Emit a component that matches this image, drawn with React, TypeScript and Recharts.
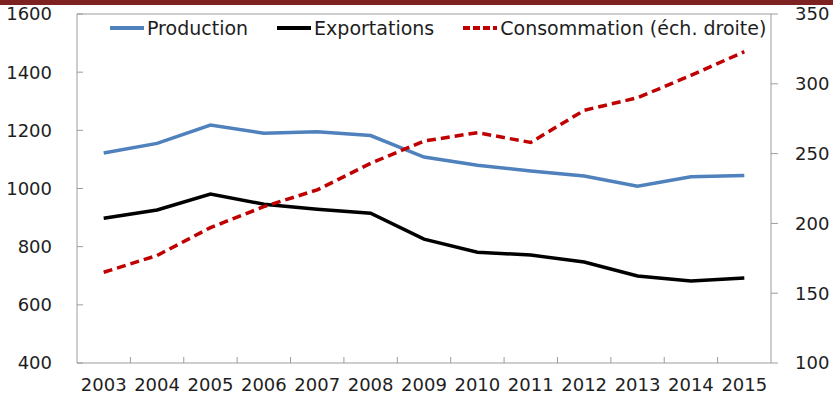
import {
  LineChart,
  Line,
  XAxis,
  YAxis,
  Legend,
  ReferenceLine,
} from "recharts";

const C_TEXT = "#1e1e1e";
const C_AXIS = "#9c9c9c";
const C_PROD = "#4f81bd";
const C_EXPO = "#000000";
const C_CONSO = "#c00000";
const C_BAND = "#7d2220";
const FONT = "'DejaVu Sans', sans-serif";

const W = 833;
const H = 406;
const LEFT_W = 77;
const RIGHT_W = 62;
const PLOT_W = W - LEFT_W - RIGHT_W;

const years = [
  "2003", "2004", "2005", "2006", "2007", "2008", "2009",
  "2010", "2011", "2012", "2013", "2014", "2015",
];
const production = [1122, 1155, 1218, 1190, 1195, 1182, 1108, 1080, 1060, 1043, 1008, 1040, 1045];
const exportations = [898, 926, 981, 946, 929, 915, 826, 781, 771, 747, 699, 682, 692];
const consommation = [165, 177, 197, 212, 224, 243, 259, 265, 258, 281, 290, 306, 323];

const leftTicks = [400, 600, 800, 1000, 1200, 1400, 1600];
const rightTicks = [100, 150, 200, 250, 300, 350];

const data = years.map((year, i) => ({
  year,
  Production: production[i],
  Exportations: exportations[i],
  Consommation: consommation[i],
}));

const legendItems = [
  { label: "Production", color: C_PROD, dash: undefined },
  { label: "Exportations", color: C_EXPO, dash: undefined },
  { label: "Consommation (éch. droite)", color: C_CONSO, dash: "7 3" },
];

const X_MARGIN = 15;
const Y_MARGIN = 25;
const STEP = PLOT_W / years.length;

function YearTick(props: any) {
  const { x, y, payload, index } = props;
  const axisY = y - X_MARGIN;
  return (
    <g>
      {index > 0 && (
        <line
          x1={x - STEP / 2}
          x2={x - STEP / 2}
          y1={axisY}
          y2={axisY - 6}
          stroke={C_AXIS}
        />
      )}
      <text
        x={x}
        y={y}
        dy="0.71em"
        textAnchor="middle"
        fontSize={18}
        fill={C_TEXT}
        fontFamily={FONT}
      >
        {payload.value}
      </text>
    </g>
  );
}

function LeftTick(props: any) {
  const { x, y, payload } = props;
  const axisX = x + Y_MARGIN;
  return (
    <g>
      <line x1={axisX} x2={axisX + 6} y1={y} y2={y} stroke={C_AXIS} />
      <text
        x={x}
        y={y}
        dy="0.36em"
        textAnchor="end"
        fontSize={18}
        fill={C_TEXT}
        fontFamily={FONT}
      >
        {payload.value}
      </text>
    </g>
  );
}

function LegendContent() {
  return (
    <div
      style={{
        display: "flex",
        alignItems: "center",
        fontFamily: FONT,
        fontSize: 19,
        color: C_TEXT,
        whiteSpace: "nowrap",
      }}
    >
      {legendItems.map((it) => (
        <div
          key={it.label}
          style={{ display: "flex", alignItems: "center", marginRight: 29 }}
        >
          <svg width={34} height={8} style={{ marginRight: 3 }}>
            <line
              x1={0}
              x2={34}
              y1={4}
              y2={4}
              stroke={it.color}
              strokeWidth={4}
              strokeDasharray={it.dash}
            />
          </svg>
          <span>{it.label}</span>
        </div>
      ))}
    </div>
  );
}

export default function App() {
  return (
    <div
      style={{
        position: "fixed",
        left: 0,
        top: 0,
        width: W,
        height: H,
        background: "#ffffff",
      }}
    >
      <LineChart
        width={W}
        height={H}
        data={data}
        margin={{ top: 14, right: 0, left: 0, bottom: 0 }}
        style={{ fontFamily: FONT }}
      >
        <XAxis
          dataKey="year"
          height={43}
          padding={{ left: STEP / 2, right: STEP / 2 }}
          axisLine={{ stroke: C_AXIS }}
          tickLine={false}
          tickSize={0}
          tickMargin={X_MARGIN}
          interval={0}
          tick={<YearTick />}
        />
        <YAxis
          yAxisId="left"
          width={LEFT_W}
          domain={[400, 1600]}
          ticks={leftTicks}
          axisLine={{ stroke: C_AXIS }}
          tickLine={false}
          tickSize={0}
          tickMargin={Y_MARGIN}
          interval={0}
          tick={<LeftTick />}
        />
        <YAxis
          yAxisId="right"
          orientation="right"
          width={RIGHT_W}
          domain={[100, 350]}
          ticks={rightTicks}
          axisLine={{ stroke: C_AXIS }}
          tickLine={{ stroke: C_AXIS }}
          tickSize={7}
          tickMargin={17}
          interval={0}
          tick={{ fontSize: 18, fill: C_TEXT, fontFamily: FONT, textAnchor: "start" }}
        />
        <ReferenceLine yAxisId="left" y={1600} stroke={C_AXIS} />
        <Legend
          layout="horizontal"
          verticalAlign="middle"
          align="center"
          wrapperStyle={{ top: 17, left: 110, width: "auto" }}
          content={<LegendContent />}
        />
        <Line
          yAxisId="left"
          dataKey="Production"
          stroke={C_PROD}
          strokeWidth={3.5}
          dot={false}
          isAnimationActive={false}
        />
        <Line
          yAxisId="left"
          dataKey="Exportations"
          stroke={C_EXPO}
          strokeWidth={3.5}
          dot={false}
          isAnimationActive={false}
        />
        <Line
          yAxisId="right"
          dataKey="Consommation"
          stroke={C_CONSO}
          strokeWidth={3.5}
          strokeDasharray="9 5"
          dot={false}
          isAnimationActive={false}
        />
      </LineChart>
      <div
        style={{
          position: "absolute",
          left: 0,
          top: 0,
          width: W,
          height: 5,
          background: C_BAND,
        }}
      />
    </div>
  );
}
